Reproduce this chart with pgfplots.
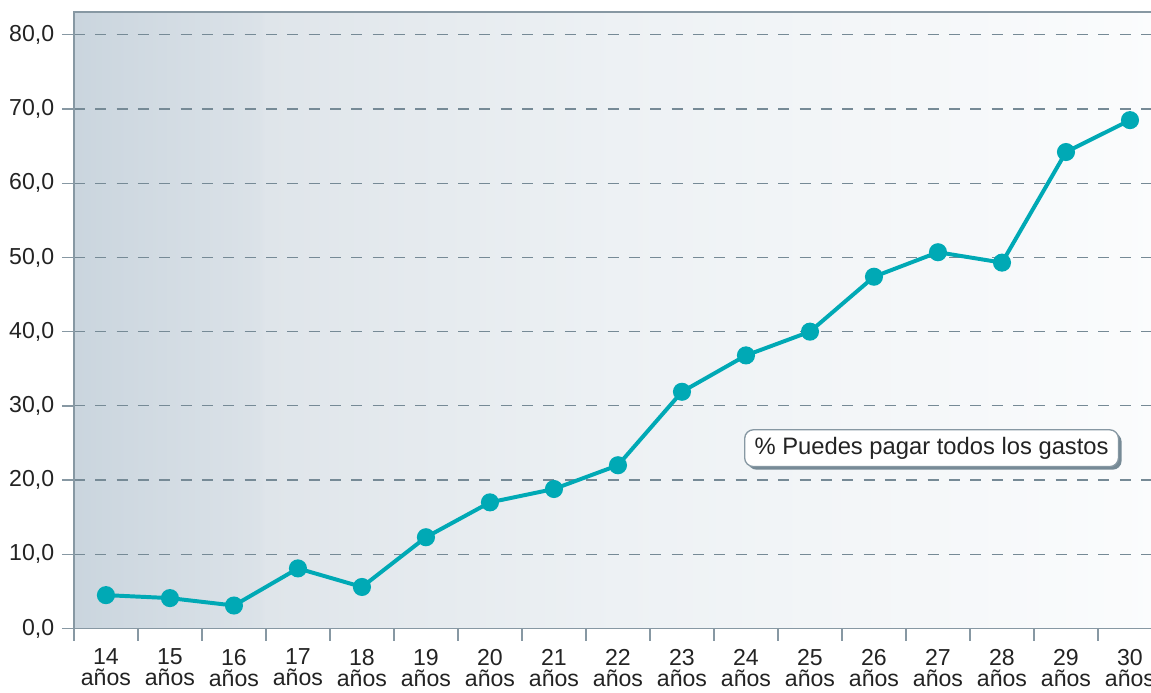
\documentclass[border=0pt]{standalone}
\usepackage{pgfplots}
\pgfplotsset{compat=1.18}
\usepackage{fontspec}
\setmainfont{Liberation Sans}
\usetikzlibrary{calc,shadows}

\definecolor{linea}{RGB}{0,169,181}
\definecolor{ejes}{RGB}{135,152,163}
\definecolor{rejilla}{RGB}{118,138,150}
\definecolor{texto}{RGB}{35,35,35}
\definecolor{fondoA}{RGB}{202,213,222}
\definecolor{fondoB}{RGB}{219,226,232}
\definecolor{fondoC}{RGB}{223,229,234}
\definecolor{fondoD}{RGB}{237,241,244}
\definecolor{fondoE}{RGB}{251,252,253}
\pgfdeclarehorizontalshading{fondo}{100bp}{color(0bp)=(fondoA); color(25bp)=(fondoA);
  color(33.5bp)=(fondoB); color(33.8bp)=(fondoC); color(50bp)=(fondoD);
  color(75bp)=(fondoE); color(100bp)=(fondoE)}

\begin{document}
\begin{tikzpicture}
\begin{axis}[
    name=ax,
    scale only axis,
    width=494.5pt, height=280.2pt,
    xmin=-0.5, xmax=16.5,
    ymin=0, ymax=83.07,
    xtick={0,...,16},
    xticklabels={14\\años,15\\años,16\\años,17\\años,18\\años,19\\años,20\\años,21\\años,22\\años,
                 23\\años,24\\años,25\\años,26\\años,27\\años,28\\años,29\\años,30\\años},
    minor xtick={-0.5,0.5,...,16.5},
    ytick={0,10,...,80},
    xtick pos=left, ytick pos=left,
    tick align=outside,
    major tick length=5.45pt, minor tick length=5.45pt,
    tick style={ejes, line width=0.6pt},
    major x tick style={draw=none},
    axis line style={ejes, line width=0.7pt},
    ymajorgrids,
    grid style={rejilla, dash pattern=on 5pt off 4.7pt, line width=0.55pt},
    y tick label style={/pgf/number format/fixed, /pgf/number format/fixed zerofill,
        /pgf/number format/precision=1, /pgf/number format/use comma,
        /pgf/number format/assume math mode=true,
        font=\fontsize{10.5}{12}\selectfont, text=texto},
    x tick label style={align=center, font=\fontsize{10.5}{9.6}\selectfont, text=texto, yshift=-0.3pt},
    axis background/.style={shading=fondo},
]
\addplot[linea, line width=1.8pt, mark=*, mark size=3.2pt, mark options={fill=linea, draw=linea}]
coordinates {
(0,4.5) (1,4.1) (2,3.1) (3,8.1) (4,5.6) (5,12.3) (6,17.0) (7,18.8) (8,22.0)
(9,31.9) (10,36.8) (11,40.0) (12,47.4) (13,50.7) (14,49.3) (15,64.2) (16,68.5)
};
\node[draw=ejes, fill=white, line width=0.6pt, rounded corners=4pt,
      drop shadow={shadow xshift=1.4pt, shadow yshift=-1.4pt, fill=rejilla, opacity=1},
      font=\fontsize{10.8}{12}\selectfont, text=texto, inner xsep=4.5pt, minimum height=16pt]
      at (axis cs:12.9,24.3) {\% Puedes pagar todos los gastos};
\end{axis}
\pgfresetboundingbox
\path[use as bounding box] ($(ax.north west)+(-33.6pt,5.45pt)$) rectangle ($(ax.south west)+(489.5pt,-28.9pt)$);
\end{tikzpicture}
\end{document}
